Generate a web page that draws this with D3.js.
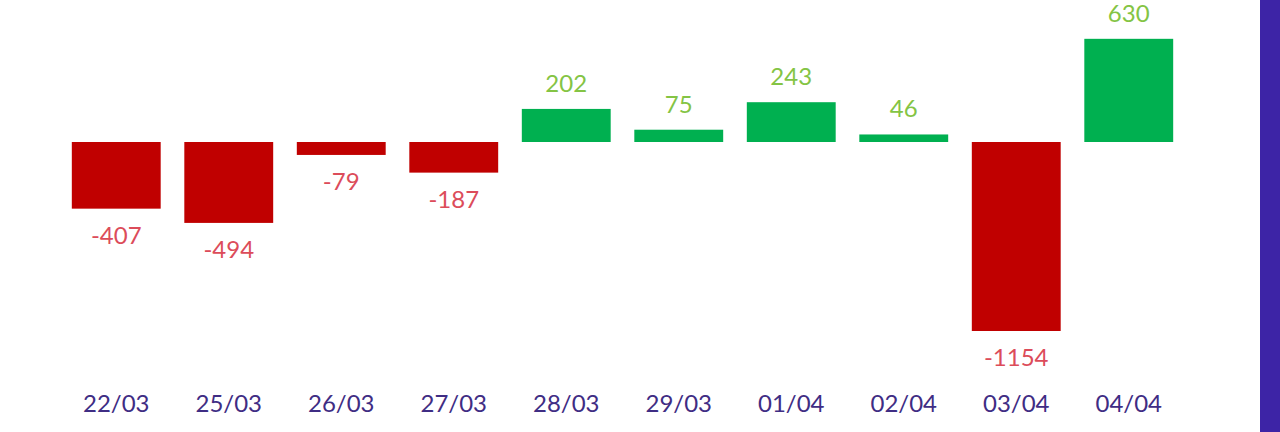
<!DOCTYPE html>
<html><head><meta charset="utf-8">
<script src="https://cdn.jsdelivr.net/npm/d3@7"></script>
<style>html,body{margin:0;padding:0;background:#fff;overflow:hidden}</style>
</head><body>
<svg id="c" width="1280" height="432"></svg>
<script>
const categories = ["22/03","25/03","26/03","27/03","28/03","29/03","01/04","02/04","03/04","04/04"];
const values = [-407,-494,-79,-187,202,75,243,46,-1154,630];

const svg = d3.select("#c");
const font = "Lato, 'Noto Sans', sans-serif";
const x = d3.scaleBand().domain(categories).range([60,1185]).paddingInner(0.21).paddingOuter(0.105);
const y = d3.scaleLinear().domain([0,1154]).range([142,331]);
const yv = v => 142 + (y(Math.abs(v)) - 142) * (v < 0 ? 1 : -1);

svg.selectAll("rect.bar").data(values).join("rect")
  .attr("class","bar")
  .attr("x",(d,i)=>x(categories[i]))
  .attr("width",x.bandwidth())
  .attr("y",d=>Math.min(yv(d),y(0)))
  .attr("height",d=>Math.abs(yv(d)-y(0)))
  .attr("fill",d=>d<0?"#c00000":"#00b050");

svg.selectAll("text.val").data(values).join("text")
  .attr("class","val")
  .attr("x",(d,i)=>x(categories[i])+x.bandwidth()/2)
  .attr("y",d=>d<0?yv(d)+35:yv(d)-17)
  .attr("text-anchor","middle")
  .attr("font-family",font).attr("font-size",24)
  .attr("fill",d=>d<0?"#dc4c5a":"#84c444")
  .text(d=>d);

const xa = svg.append("g").attr("transform","translate(0,395)")
  .call(d3.axisBottom(x).tickSize(0).tickPadding(0));
xa.select(".domain").remove();
xa.selectAll("text").attr("font-family",font).attr("font-size",24).attr("fill","#3f2d84").attr("dy","0.71em");

svg.append("rect").attr("x",1260).attr("y",0).attr("width",20).attr("height",432).attr("fill","#3d24a6");
</script>
</body></html>
